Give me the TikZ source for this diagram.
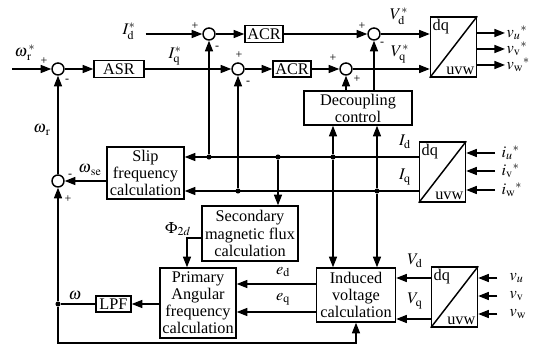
\documentclass[tikz,border=0pt]{standalone}
\usepackage{mathptmx}
\usepackage{fontspec}
\setmainfont{Liberation Serif}
\usetikzlibrary{calc,arrows.meta}
\tikzset{
  blk/.style={draw, line width=1.1pt, align=center, inner sep=1pt},
  sumj/.style={draw, circle, line width=1.1pt, minimum size=9pt, inner sep=0pt},
  conv/.style={draw, line width=1.1pt, minimum width=34.5pt, minimum height=45pt, inner sep=0pt},
  sgn/.style={font=\fontsize{9}{9}\selectfont, inner sep=0pt},
  jdot/.style={circle, fill, minimum size=3.8pt, inner sep=0pt},
  sig/.style={line width=1.2pt, -{Triangle[length=8pt,width=6pt]}},
  wire/.style={line width=1.2pt},
}
\begin{document}
\begin{tikzpicture}[x=0.75pt, y=-0.75pt, font=\fontsize{12.2}{12.8}\selectfont]
\useasboundingbox (0,0) rectangle (533,349);
%% ------------------------------------------------------------------ controllers
\node[sumj] (sumw) at (58,69) {};
\node[blk, minimum width=37.5pt, minimum height=12.75pt] (asr) at (119,69) {ASR};
\node[sumj] (sumd) at (209,34) {};
\node[blk, minimum width=28.5pt, minimum height=12.75pt] (acrd) at (264,34) {ACR};
\node[sumj] (sumq) at (238,69) {};
\node[blk, minimum width=28.5pt, minimum height=12pt] (acrq) at (292,69) {ACR};
\node[sumj] (sumvd) at (374,34) {};
\node[sumj] (sumvq) at (346,69) {};
\node[blk, minimum width=81pt, minimum height=25.5pt] (dec) at (358,108) {Decoupling\\control};
%% ------------------------------------------------------------------ estimators
\node[blk, minimum width=57.75pt, minimum height=39pt] (slip) at (145.5,173) {Slip\\frequency\\calculation};
\node[sumj] (sumslip) at (58,181) {};
\node[blk, minimum width=72pt, minimum height=41.25pt] (sec) at (250,233.5) {Secondary\\magnetic flux\\calculation};
\node[blk, minimum width=57pt, minimum height=52.5pt] (prim) at (198,303) {Primary\\Angular\\frequency\\calculation};
\node[blk, minimum width=26.25pt, minimum height=12pt] (lpf) at (113.5,304) {LPF};
\node[blk, minimum width=59.25pt, minimum height=40.5pt] (ind) at (356,295) {Induced\\voltage\\calculation};
%% the three dq/uvw converters
\foreach \n/\px/\py in {cvo/453.5/47, cvi/442.5/172, cvv/454.5/297} {
  \node[conv] (\n) at (\px,\py) {};
  \draw[line width=1.1pt] (\n.south west) -- (\n.north east);
  \node[anchor=north west, inner sep=2pt] (\n-dq) at (\n.north west) {dq};
  \node[anchor=south east, inner sep=2pt] (\n-uvw) at (\n.south east) {uvw};
}
%% signs at the summing points
\foreach \s/\dx/\dy/\t [count=\k] in {sumw/-14/-8/+, sumw/9/12/-, sumd/-14/-8/+, sumd/8/14/-,
    sumq/1/-14/+, sumq/10/14/-, sumvd/-12/-8/+, sumvd/8/10/-, sumvq/-13/-11/+, sumvq/11/10/+,
    sumslip/12/-5/-, sumslip/10/18/+}
  \node[sgn] (sg\k) at ($(\s)+(\dx,\dy)$) {\t};
%% labels
\node (wreflab) at (25,53) {$\omega_{\,\mathrm{r}}^{\,*}$};
\coordinate (wref) at (12,69);
\node (idlab) at (129,31) {$I_\mathrm{d}^{*}$};
\node (iqlab) at (175,56) {$I_\mathrm{q}^{*}$};
\node (vdlab) at (399,16) {$V_\mathrm{d}^{*}$};
\node (vqlab) at (400,54) {$V_\mathrm{q}^{*}$};
\node (wrlab) at (42,130) {$\omega_{\,\mathrm{r}}$};
\node (wselab) at (90,170) {$\omega_{\,\mathrm{se}}$};
\node (wlab) at (75,296) {$\omega$};
\node (phlab) at (178,229) {$\Phi_{2d}$};
\node (idl) at (405,142) {$I_\mathrm{d}$};
\node (iql) at (405,177) {$I_\mathrm{q}$};
\node (edl) at (283,272) {$e_\mathrm{d}$};
\node (eql) at (283,299) {$e_\mathrm{q}$};
\node (vdl) at (415,261) {$V_\mathrm{d}$};
\node (vql) at (415,301) {$V_\mathrm{q}$};
%% ------------------------------------------------------------------ forward path
\draw[sig] (wref) -- (sumw);
\draw[sig] (sumw) -- (asr);
\draw[sig] (asr) -- (sumq);
\draw[sig] (sumq) -- (acrq);
\draw[sig] (acrq) -- (sumvq);
\draw[sig] (sumvq) -- (cvo.west |- sumvq);
\draw[sig, shorten <=4pt] (idlab.east |- sumd) -- (sumd);
\draw[sig] (sumd) -- (acrd);
\draw[sig] (acrd) -- (sumvd);
\draw[sig] (sumvd) -- (cvo.west |- sumvd);
\draw[sig] (dec.north -| sumvq) -- (sumvq);
\draw[sig] (dec.north -| sumvd) -- (sumvd);
\foreach \nm/\yy/\tx in {vuo/33/{$v_u{}^{*}$}, vvo/49/{$v_\mathrm{v}{}^{*}$}, vwo/65/{$v_\mathrm{w}{}^{*}$}} {
  \node[anchor=west, inner sep=1pt] (\nm) at (505,\yy) {\tx};
  \draw[sig] (cvo.east |- \nm) -- (\nm.west);
}
%% ------------------------------------------------------------------ current feedback
\foreach \nm/\yy/\tx in {iu/153/{$i_u{}^{*}$}, iv/171/{$i_\mathrm{v}{}^{*}$}, iw/190/{$i_\mathrm{w}{}^{*}$}} {
  \node[anchor=west, inner sep=1pt] (\nm) at (500,\yy) {\tx};
  \draw[sig, shorten <=3.75pt] (\nm.west) -- (cvi.east |- \nm);
}
\node[jdot] (dd1) at (209,157) {};
\node[jdot] (dd2) at (278,157) {};
\node[jdot] (dd3) at (333,157) {};
\node[jdot] (dq1) at (238,191) {};
\node[jdot] (dq2) at (377,191) {};
\draw[sig] (cvi.west |- dd1) -- (slip.east |- dd1);
\draw[sig] (cvi.west |- dq1) -- (slip.east |- dq1);
\draw[sig] (dd1) -- (sumd);
\draw[sig] (dd2) -- (sec.north -| dd2);
\draw[sig] (dd3) -- (dec.south -| dd3);
\draw[sig] (dd3) -- (ind.north -| dd3);
\draw[sig] (dq1) -- (sumq);
\draw[sig] (dq2) -- (dec.south -| dq2);
\draw[sig] (dq2) -- (ind.north -| dq2);
%% ------------------------------------------------------------------ speed estimation
\draw[sig] (slip.west |- sumslip) -- (sumslip);
\draw[sig] (sumslip) -- (sumw);
\node[jdot] (jw) at (58,304) {};
\coordinate (fbc) at (58,343);
\draw[sig] (prim.west |- lpf) -- (lpf);
\draw[wire] (lpf) -- (jw);
\draw[sig] (jw) -- (sumslip);
\draw[sig] (jw) -- (fbc) -| (ind.south);
\draw[sig] ([yshift=-3.4pt]sec.west) -| ([xshift=-8.25pt]prim.north);
\coordinate (edc) at ([yshift=8.25pt]ind.west);
\coordinate (eqc) at ([yshift=-12.75pt]ind.west);
\draw[sig] (edc) -- (prim.east |- edc);
\draw[sig] (eqc) -- (prim.east |- eqc);
\coordinate (vdc) at ([yshift=14.25pt]cvv.west);
\coordinate (vqc) at ([yshift=-16.5pt]cvv.west);
\draw[sig] (vdc) -- (ind.east |- vdc);
\draw[sig] (vqc) -- (ind.east |- vqc);
\foreach \nm/\yy/\tx in {vu/278/{$v_u$}, vv/296/{$v_\mathrm{v}$}, vw/314/{$v_\mathrm{w}$}} {
  \node[anchor=west, inner sep=1pt] (\nm) at (508,\yy) {\tx};
  \draw[sig, shorten <=8pt] (\nm.west) -- (cvv.east |- \nm);
}
\end{tikzpicture}
\end{document}
